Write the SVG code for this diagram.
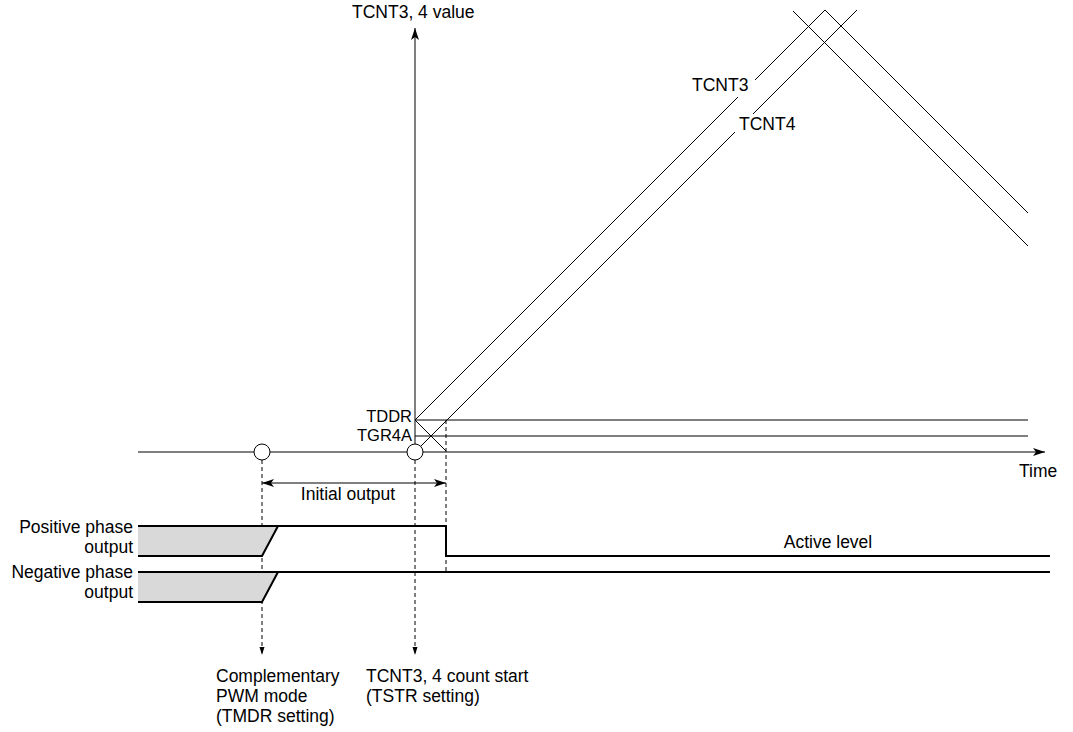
<svg xmlns="http://www.w3.org/2000/svg" width="1073" height="732" viewBox="0 0 1073 732">
<style>
text{font-family:"Liberation Sans",Arial,sans-serif;font-size:17.5px;fill:#000}
.sm{font-size:16.5px}
.thin{stroke:#000;stroke-width:1;fill:none}
.wave{stroke:#000;stroke-width:2;fill:none}
.dash{stroke:#000;stroke-width:1;fill:none;stroke-dasharray:4,3}
.r{text-anchor:end}
.m{text-anchor:middle}
</style>
<defs>
<marker id="ah" markerWidth="12" markerHeight="8" refX="12" refY="4" orient="auto-start-reverse" markerUnits="userSpaceOnUse">
<path d="M0,0 L12,4 L0,8 L3,4 Z" fill="#000"/>
</marker>
<marker id="ahs" markerWidth="8" markerHeight="6" refX="8" refY="3" orient="auto" markerUnits="userSpaceOnUse">
<path d="M0,0.5 L8,3 L0,5.5 Z" fill="#000"/>
</marker>
</defs>
<g id="connectors">
<line class="thin" x1="415" y1="444" x2="415" y2="28" marker-end="url(#ah)"/>
<line class="thin" x1="138" y1="452" x2="254" y2="452"/>
<line class="thin" x1="270" y1="452" x2="407" y2="452"/>
<line class="thin" x1="423" y1="452" x2="1045" y2="452" marker-end="url(#ah)"/>
<line class="thin" x1="415" y1="420" x2="1028" y2="420"/>
<line class="thin" x1="415" y1="436" x2="1028" y2="436"/>
<polyline class="thin" points="415,420 825,10 1028,213"/>
<line class="thin" x1="415" y1="452" x2="857" y2="10"/>
<line class="thin" x1="793" y1="11" x2="1028" y2="246"/>
<line class="thin" x1="415" y1="420" x2="446" y2="451"/>
<line class="dash" x1="262" y1="460" x2="262" y2="655" marker-end="url(#ahs)"/>
<line class="dash" x1="415" y1="460" x2="415" y2="655" marker-end="url(#ahs)"/>
<line class="dash" x1="446" y1="420" x2="446" y2="572"/>
<line class="thin" x1="262" y1="483" x2="446" y2="483" marker-start="url(#ah)" marker-end="url(#ah)"/>
<polygon points="138,526 278,526 262,556 138,556" fill="#d9d9d9" stroke="none"/>
<polygon points="138,572 278,572 262,602 138,602" fill="#d9d9d9" stroke="none"/>
<polyline class="wave" points="138,526 278,526"/>
<polyline class="wave" points="138,556 262,556 278,526 446,526 446,556 1050,556"/>
<polyline class="wave" points="138,572 1050,572"/>
<polyline class="wave" points="138,602 262,602 278,572"/>
</g>
<g id="circles">
<circle cx="262" cy="452" r="8" fill="#fff" stroke="#000" stroke-width="1"/>
<circle cx="415" cy="452" r="8" fill="#fff" stroke="#000" stroke-width="1"/>
</g>
<g id="labels">
<rect x="689" y="76" width="66" height="21" fill="#fff"/>
<text x="692" y="91">TCNT3</text>
<rect x="735" y="114" width="66" height="21" fill="#fff"/>
<text x="739" y="130">TCNT4</text>
<text x="352" y="18">TCNT3, 4 value</text>
<text class="r sm" x="412" y="422">TDDR</text>
<text class="r sm" x="412" y="441">TGR4A</text>
<text x="1019" y="477">Time</text>
<text class="m" x="348" y="500">Initial output</text>
<text class="r" x="133" y="533">Positive phase</text>
<text class="r" x="133" y="553">output</text>
<text class="r" x="133" y="578">Negative phase</text>
<text class="r" x="133" y="598">output</text>
<text class="m" x="828" y="548">Active level</text>
<text x="216" y="682">Complementary</text>
<text x="216" y="702">PWM mode</text>
<text x="216" y="722">(TMDR setting)</text>
<text x="366" y="682">TCNT3, 4 count start</text>
<text x="366" y="702">(TSTR setting)</text>
</g>
</svg>
